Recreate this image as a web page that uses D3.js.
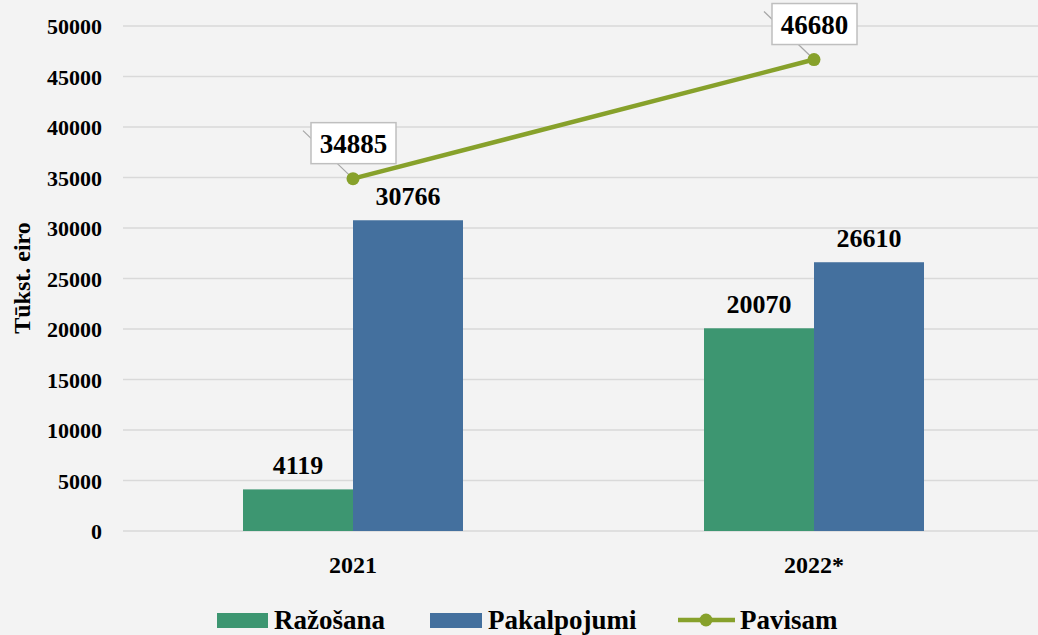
<!DOCTYPE html>
<html><head><meta charset="utf-8">
<script src="https://cdn.jsdelivr.net/npm/d3@7"></script>
<style>body{margin:0;background:#f3f3f3}svg{display:block}text{font-family:"Liberation Serif","DejaVu Serif",serif;font-weight:bold;fill:#000}</style>
</head><body><svg id="c" width="1038" height="635"></svg>
<script>
const categories = ["2021", "2022*"];
const razosana = [4119, 20070];
const pakalpojumi = [30766, 26610];
const pavisam = [34885, 46680];
const yTicks = [0,5000,10000,15000,20000,25000,30000,35000,40000,45000,50000];
const seriesNames = ["Ražošana","Pakalpojumi","Pavisam"];
const colors = ["#3d9671","#44709e","#87a12b"];

const svg = d3.select("#c");
svg.append("rect").attr("width",1038).attr("height",635).attr("fill","#f3f3f3");
const x = d3.scaleBand().domain(categories).range([122.5,1044.5]).paddingInner(0).paddingOuter(0);
const y = d3.scaleLinear().domain([0,50000]).range([531,26]);
const bw = 110;

// gridlines
svg.append("g").selectAll("line").data(yTicks).join("line")
 .attr("x1",123).attr("x2",1038).attr("y1",d=>y(d)).attr("y2",d=>y(d))
 .attr("stroke","#d9d9d9").attr("stroke-width",1.3);

// y axis labels
const ya = svg.append("g").attr("transform","translate(102,0)")
 .call(d3.axisLeft(y).tickValues(yTicks).tickSize(0).tickPadding(0).tickFormat(d=>String(d)));
ya.select(".domain").remove();
ya.selectAll("text").attr("font-size",22).attr("dy","0.36em").style("font-family",'"Liberation Serif",serif').style("font-weight","bold");

// x axis labels
const xa = svg.append("g").attr("transform","translate(0,556)")
 .call(d3.axisBottom(x).tickSize(0).tickPadding(0));
xa.select(".domain").remove();
xa.selectAll("text").attr("font-size",24).attr("dy","0.7em").style("font-family",'"Liberation Serif",serif').style("font-weight","bold");

const cx = c => x(c)+x.bandwidth()/2;

// bars
svg.append("g").selectAll("rect").data(categories).join("rect")
 .attr("x",c=>cx(c)-bw).attr("width",bw)
 .attr("y",(c,i)=>y(razosana[i])).attr("height",(c,i)=>y(0)-y(razosana[i])).attr("fill",colors[0]);
svg.append("g").selectAll("rect").data(categories).join("rect")
 .attr("x",c=>cx(c)).attr("width",bw)
 .attr("y",(c,i)=>y(pakalpojumi[i])).attr("height",(c,i)=>y(0)-y(pakalpojumi[i])).attr("fill",colors[1]);

// bar labels
svg.append("g").selectAll("text").data(categories).join("text")
 .attr("x",c=>cx(c)-bw/2).attr("y",(c,i)=>y(razosana[i])-15)
 .attr("text-anchor","middle").attr("font-size",26).text((c,i)=>razosana[i]);
svg.append("g").selectAll("text").data(categories).join("text")
 .attr("x",c=>cx(c)+bw/2).attr("y",(c,i)=>y(pakalpojumi[i])-15)
 .attr("text-anchor","middle").attr("font-size",26).text((c,i)=>pakalpojumi[i]);

// line
const line = d3.line().x((d,i)=>cx(categories[i])).y(d=>y(d));
svg.append("path").datum(pavisam).attr("d",line).attr("fill","none")
 .attr("stroke",colors[2]).attr("stroke-width",4.5);
// leader lines and boxes
const g = svg.append("g");
pavisam.forEach((v,i)=>{
  const px = cx(categories[i]), py = y(v);
  const bx = px-42, by = py-56;
  g.append("line").attr("x1",px).attr("y1",py).attr("x2",px-50).attr("y2",py-48)
   .attr("stroke","#a6a6a6").attr("stroke-width",1.2);
  g.append("rect").attr("x",bx).attr("y",by).attr("width",85).attr("height",41)
   .attr("fill","#ffffff").attr("stroke","#bfbfbf").attr("stroke-width",1.5);
  g.append("text").attr("x",bx+42.5).attr("y",by+30).attr("text-anchor","middle")
   .attr("font-size",27).text(v);
});
svg.append("g").selectAll("circle").data(pavisam).join("circle")
 .attr("cx",(d,i)=>cx(categories[i])).attr("cy",d=>y(d)).attr("r",6.5).attr("fill",colors[2]);

// y title
svg.append("text").attr("transform","translate(30,278) rotate(-90)")
 .attr("text-anchor","middle").attr("font-size",24).text("Tūkst. eiro");

// legend
const lg = svg.append("g").attr("transform","translate(0,620)");
lg.append("rect").attr("x",217).attr("y",-7).attr("width",51).attr("height",15).attr("fill",colors[0]);
lg.append("text").attr("x",274).attr("y",9).attr("font-size",27).text(seriesNames[0]);
lg.append("rect").attr("x",430).attr("y",-7).attr("width",52).attr("height",15).attr("fill",colors[1]);
lg.append("text").attr("x",488).attr("y",9).attr("font-size",27).text(seriesNames[1]);
lg.append("line").attr("x1",678).attr("x2",735).attr("y1",0).attr("y2",0).attr("stroke",colors[2]).attr("stroke-width",4.5);
lg.append("circle").attr("cx",706).attr("cy",0).attr("r",6.5).attr("fill",colors[2]);
lg.append("text").attr("x",740).attr("y",9).attr("font-size",27).text(seriesNames[2]);
</script></body></html>
